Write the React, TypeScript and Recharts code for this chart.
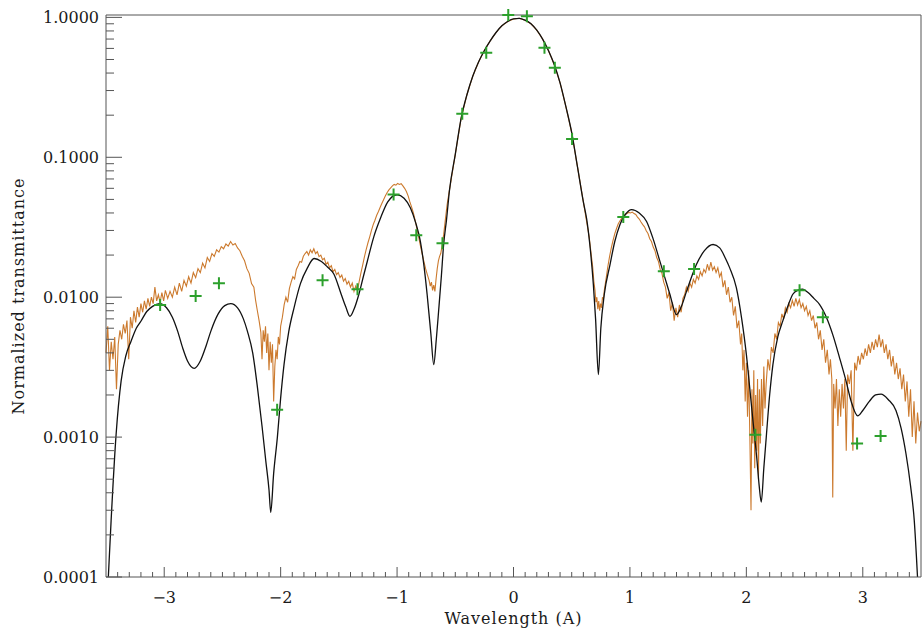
import React from 'react';
import { ComposedChart, Line, Scatter, XAxis, YAxis } from 'recharts';

// smooth model transmittance (black)
const model: [number, number][] = [
  [-3.48, 0.0001], [-3.456, 0.000254], [-3.413, 0.00105], [-3.37, 0.00252], [-3.33, 0.0038],
  [-3.284, 0.00486], [-3.24, 0.006], [-3.199, 0.00676], [-3.15, 0.0079], [-3.1, 0.0086],
  [-3.04, 0.009], [-2.98, 0.0084], [-2.93, 0.0072], [-2.884, 0.0057], [-2.84, 0.0043],
  [-2.8, 0.0035], [-2.742, 0.0031], [-2.69, 0.0035], [-2.64, 0.0045], [-2.6, 0.0057],
  [-2.54, 0.0075], [-2.48, 0.0087], [-2.428, 0.009], [-2.37, 0.0084], [-2.32, 0.007],
  [-2.285, 0.0057], [-2.24, 0.004], [-2.199, 0.00226], [-2.16, 0.0012], [-2.128, 0.00068],
  [-2.1, 0.00042], [-2.085, 0.00029], [-2.06, 0.00055], [-2.028, 0.001], [-2.0, 0.0019],
  [-1.971, 0.0033], [-1.93, 0.0057], [-1.885, 0.0084], [-1.83, 0.0125], [-1.77, 0.0162],
  [-1.713, 0.0189], [-1.65, 0.018], [-1.6, 0.0165], [-1.542, 0.0146], [-1.48, 0.0105],
  [-1.44, 0.0085], [-1.405, 0.0073], [-1.37, 0.0082], [-1.328, 0.0105], [-1.29, 0.014],
  [-1.256, 0.018], [-1.2, 0.027], [-1.142, 0.0368], [-1.08, 0.048], [-1.0, 0.054],
  [-0.94, 0.051], [-0.885, 0.0434], [-0.84, 0.034], [-0.8, 0.0251], [-0.77, 0.017],
  [-0.742, 0.0105], [-0.71, 0.0055], [-0.685, 0.0033], [-0.663, 0.005], [-0.643, 0.008],
  [-0.62, 0.014], [-0.6, 0.0238], [-0.575, 0.036], [-0.55, 0.058], [-0.5, 0.105],
  [-0.45, 0.19], [-0.4, 0.28], [-0.35, 0.38], [-0.3, 0.48], [-0.25, 0.58], [-0.2, 0.68],
  [-0.15, 0.78], [-0.1, 0.87], [-0.05, 0.935], [0.0, 0.975], [0.05, 0.985], [0.1, 0.955],
  [0.15, 0.9], [0.2, 0.81], [0.25, 0.7], [0.3, 0.58], [0.35, 0.46], [0.4, 0.34], [0.45, 0.23],
  [0.5, 0.15], [0.55, 0.085], [0.6, 0.048], [0.629, 0.036], [0.655, 0.024], [0.686, 0.0123],
  [0.705, 0.007], [0.729, 0.0028], [0.75, 0.006], [0.78, 0.0105], [0.829, 0.0171],
  [0.87, 0.025], [0.914, 0.033], [0.96, 0.039], [1.015, 0.0423], [1.08, 0.04], [1.143, 0.0348],
  [1.2, 0.026], [1.257, 0.0181], [1.3, 0.0138], [1.343, 0.0105], [1.4, 0.0075], [1.44, 0.0085],
  [1.486, 0.011], [1.53, 0.014], [1.571, 0.0171], [1.64, 0.0215], [1.714, 0.0238],
  [1.771, 0.0225], [1.82, 0.019], [1.857, 0.0162], [1.914, 0.0117], [1.96, 0.007], [2.0, 0.0039],
  [2.03, 0.0022], [2.057, 0.0013], [2.09, 0.0007], [2.11, 0.00045], [2.128, 0.000343],
  [2.15, 0.0006], [2.171, 0.001], [2.2, 0.002], [2.228, 0.0033], [2.27, 0.0052], [2.314, 0.0068],
  [2.36, 0.0088], [2.399, 0.0105], [2.44, 0.0112], [2.485, 0.0114], [2.53, 0.0108], [2.58, 0.0098],
  [2.628, 0.0089], [2.69, 0.0071], [2.742, 0.0054], [2.8, 0.0037], [2.857, 0.0025], [2.9, 0.0018],
  [2.956, 0.00142], [3.0, 0.00155], [3.056, 0.0018], [3.11, 0.002], [3.157, 0.00203],
  [3.22, 0.00185], [3.285, 0.00155], [3.33, 0.00115], [3.371, 0.00076], [3.41, 0.00045],
  [3.442, 0.000254], [3.47, 0.0001],
];

// measured transmittance (orange)
const measured: [number, number][] = [
  [-3.5, 0.004], [-3.485, 0.0062], [-3.47, 0.003], [-3.455, 0.0048], [-3.44, 0.0036], [-3.425, 0.0052],
  [-3.41, 0.0022], [-3.395, 0.0046], [-3.38, 0.0058], [-3.365, 0.005], [-3.35, 0.0064], [-3.335, 0.0055],
  [-3.32, 0.0068], [-3.305, 0.0036], [-3.29, 0.0072], [-3.275, 0.006], [-3.26, 0.008], [-3.245, 0.0066],
  [-3.23, 0.0085], [-3.215, 0.0072], [-3.2, 0.009], [-3.185, 0.0078], [-3.17, 0.0094], [-3.155, 0.0082],
  [-3.14, 0.0098], [-3.125, 0.0086], [-3.11, 0.01], [-3.095, 0.009], [-3.08, 0.0118], [-3.065, 0.0094],
  [-3.05, 0.0104], [-3.035, 0.0092], [-3.02, 0.0108], [-3.005, 0.0094],
  [-2.99, 0.0112], [-2.97, 0.0098], [-2.95, 0.011], [-2.93, 0.01], [-2.91, 0.0118], [-2.89, 0.0104],
  [-2.87, 0.0126], [-2.85, 0.011], [-2.83, 0.0132], [-2.81, 0.012], [-2.79, 0.014], [-2.77, 0.0126],
  [-2.75, 0.015], [-2.73, 0.0138], [-2.71, 0.016], [-2.69, 0.015], [-2.67, 0.0175], [-2.65, 0.0162],
  [-2.63, 0.0192], [-2.61, 0.018], [-2.59, 0.0205], [-2.57, 0.0196], [-2.55, 0.0218], [-2.53, 0.021],
  [-2.51, 0.023], [-2.49, 0.0222], [-2.47, 0.024], [-2.45, 0.0232], [-2.43, 0.025], [-2.41, 0.0236],
  [-2.39, 0.0242], [-2.37, 0.0225], [-2.35, 0.0215], [-2.33, 0.0196], [-2.31, 0.0182], [-2.29, 0.016],
  [-2.27, 0.0148], [-2.25, 0.0125],
  [-2.23, 0.0118], [-2.215, 0.0095], [-2.2, 0.008], [-2.185, 0.0068], [-2.17, 0.0056], [-2.16, 0.0036],
  [-2.15, 0.0058], [-2.14, 0.0048], [-2.13, 0.0062], [-2.12, 0.004], [-2.11, 0.0055], [-2.1, 0.003],
  [-2.09, 0.0048], [-2.08, 0.0034], [-2.07, 0.0046], [-2.06, 0.0018], [-2.05, 0.0032], [-2.04, 0.0042],
  [-2.03, 0.0036], [-2.02, 0.0052], [-2.01, 0.0046], [-2.0, 0.0062], [-1.985, 0.0072], [-1.97, 0.0088],
  [-1.955, 0.01], [-1.94, 0.0092], [-1.925, 0.0115], [-1.91, 0.0128], [-1.895, 0.014], [-1.88, 0.0135],
  [-1.865, 0.0158], [-1.85, 0.0168], [-1.835, 0.018], [-1.82, 0.0178], [-1.805, 0.0196], [-1.79, 0.0205],
  [-1.775, 0.0212], [-1.76, 0.02], [-1.745, 0.0218], [-1.73, 0.0208], [-1.715, 0.0222], [-1.7, 0.0205],
  [-1.685, 0.0212], [-1.67, 0.0195], [-1.655, 0.02], [-1.64, 0.0185], [-1.625, 0.019], [-1.61, 0.0172],
  [-1.595, 0.0178], [-1.58, 0.0162], [-1.565, 0.0168], [-1.55, 0.0152], [-1.535, 0.0158], [-1.52, 0.0145],
  [-1.505, 0.015], [-1.49, 0.0138], [-1.475, 0.0144], [-1.46, 0.013], [-1.445, 0.0136], [-1.43, 0.0124],
  [-1.415, 0.013], [-1.4, 0.0118], [-1.385, 0.0126], [-1.37, 0.011], [-1.355, 0.012], [-1.34, 0.0112],
  [-1.325, 0.013], [-1.31, 0.015],
  [-1.295, 0.017], [-1.28, 0.0195], [-1.265, 0.022], [-1.25, 0.0245], [-1.235, 0.027], [-1.22, 0.03],
  [-1.205, 0.033], [-1.19, 0.0355], [-1.175, 0.0385], [-1.16, 0.041], [-1.145, 0.044], [-1.13, 0.047],
  [-1.115, 0.05], [-1.1, 0.053], [-1.085, 0.056], [-1.07, 0.0585], [-1.055, 0.0605], [-1.04, 0.0625],
  [-1.025, 0.064], [-1.01, 0.0632], [-0.995, 0.065], [-0.98, 0.064], [-0.965, 0.0648], [-0.95, 0.0625],
  [-0.935, 0.06], [-0.92, 0.057], [-0.905, 0.053], [-0.89, 0.048], [-0.875, 0.044], [-0.86, 0.04],
  [-0.845, 0.0355], [-0.83, 0.031], [-0.815, 0.027], [-0.8, 0.0235], [-0.785, 0.0205], [-0.77, 0.018],
  [-0.755, 0.016], [-0.74, 0.0145], [-0.725, 0.0132], [-0.715, 0.012], [-0.705, 0.0128], [-0.695, 0.0112],
  [-0.685, 0.0122], [-0.675, 0.011], [-0.665, 0.0135], [-0.655, 0.016], [-0.645, 0.0182], [-0.635, 0.0196],
  [-0.625, 0.0205], [-0.615, 0.0228], [-0.6, 0.028], [-0.585, 0.036], [-0.57, 0.046], [-0.555, 0.055],
  [-0.5, 0.105], [-0.45, 0.19], [-0.4, 0.28], [-0.35, 0.38], [-0.3, 0.48], [-0.25, 0.58], [-0.2, 0.68],
  [-0.15, 0.78], [-0.1, 0.87], [-0.05, 0.935], [0.0, 0.975], [0.05, 0.985], [0.1, 0.955], [0.15, 0.9],
  [0.2, 0.81], [0.25, 0.7], [0.3, 0.58], [0.35, 0.46], [0.4, 0.34], [0.45, 0.23], [0.5, 0.15],
  [0.55, 0.085], [0.6, 0.048],
  [0.625, 0.036], [0.65, 0.027], [0.665, 0.021], [0.68, 0.0165], [0.69, 0.013], [0.7, 0.0112],
  [0.708, 0.0092], [0.716, 0.01], [0.724, 0.0082], [0.732, 0.0094], [0.74, 0.008], [0.748, 0.009],
  [0.756, 0.0084], [0.764, 0.01], [0.772, 0.0096], [0.78, 0.0112], [0.795, 0.0135], [0.81, 0.0165],
  [0.825, 0.0195], [0.84, 0.0225], [0.855, 0.0255], [0.87, 0.0285], [0.885, 0.031], [0.9, 0.0335],
  [0.915, 0.0352], [0.93, 0.0368], [0.945, 0.038], [0.96, 0.039], [0.975, 0.0396], [0.99, 0.0404],
  [1.005, 0.04], [1.02, 0.0406], [1.035, 0.0396], [1.05, 0.039], [1.065, 0.0374], [1.08, 0.0362],
  [1.095, 0.0345], [1.11, 0.033], [1.125, 0.0318], [1.14, 0.0298], [1.155, 0.0285], [1.17, 0.0262],
  [1.185, 0.025], [1.2, 0.0228], [1.215, 0.0215], [1.23, 0.0192], [1.245, 0.018], [1.26, 0.0158],
  [1.275, 0.0148], [1.29, 0.0128], [1.305, 0.0118], [1.32, 0.0098], [1.335, 0.0108], [1.35, 0.008],
  [1.365, 0.0092], [1.38, 0.0068], [1.395, 0.0084], [1.41, 0.0072], [1.425, 0.0088], [1.44, 0.0078],
  [1.455, 0.0098], [1.47, 0.0104], [1.485, 0.0118], [1.5, 0.011], [1.515, 0.0126], [1.53, 0.0118],
  [1.545, 0.0134], [1.56, 0.0126], [1.575, 0.0142], [1.59, 0.0134], [1.605, 0.0152], [1.62, 0.0142],
  [1.635, 0.0158], [1.65, 0.015], [1.665, 0.0172], [1.68, 0.0155], [1.695, 0.0178], [1.71, 0.0156],
  [1.725, 0.0165], [1.74, 0.015], [1.755, 0.0162], [1.77, 0.014], [1.785, 0.015], [1.8, 0.0118],
  [1.815, 0.0132], [1.83, 0.0104], [1.845, 0.0118], [1.86, 0.0092], [1.875, 0.01], [1.89, 0.0074],
  [1.905, 0.0086], [1.92, 0.006], [1.935, 0.0068], [1.95, 0.0046], [1.96, 0.0055], [1.97, 0.003],
  [1.98, 0.0042], [1.99, 0.0018], [2.0, 0.0034], [2.01, 0.0014], [2.02, 0.003], [2.03, 0.001],
  [2.04, 0.0003], [2.048, 0.0022], [2.056, 0.0009], [2.064, 0.003], [2.072, 0.0006], [2.08, 0.002],
  [2.088, 0.0008], [2.096, 0.0026], [2.104, 0.0005], [2.112, 0.0022], [2.12, 0.0009], [2.13, 0.0026],
  [2.14, 0.0012], [2.15, 0.0032], [2.16, 0.0016], [2.17, 0.0024], [2.185, 0.0036], [2.2, 0.003],
  [2.215, 0.0044], [2.23, 0.004], [2.245, 0.0055], [2.26, 0.005], [2.275, 0.0066], [2.29, 0.0062],
  [2.305, 0.0076], [2.32, 0.007], [2.335, 0.0084], [2.35, 0.0078], [2.365, 0.009], [2.38, 0.0084],
  [2.395, 0.0095], [2.41, 0.0086], [2.425, 0.0098], [2.44, 0.0088], [2.455, 0.0096], [2.47, 0.0084],
  [2.485, 0.009], [2.5, 0.008], [2.515, 0.0086], [2.53, 0.0074], [2.545, 0.008], [2.56, 0.0068],
  [2.575, 0.0074], [2.59, 0.006], [2.605, 0.0066], [2.62, 0.005], [2.635, 0.0058], [2.65, 0.0042],
  [2.665, 0.005], [2.68, 0.0034], [2.695, 0.0042], [2.71, 0.0028], [2.722, 0.0036], [2.734, 0.0026],
  [2.742, 0.00037], [2.75, 0.0024], [2.762, 0.0016], [2.774, 0.0026], [2.786, 0.0012], [2.798, 0.0022],
  [2.81, 0.0014], [2.822, 0.0024], [2.834, 0.0016], [2.846, 0.0026], [2.858, 0.0008], [2.87, 0.0028],
  [2.885, 0.0024], [2.9, 0.003], [2.915, 0.0008], [2.93, 0.0034], [2.945, 0.003], [2.96, 0.0038],
  [2.975, 0.0033], [2.99, 0.004], [3.005, 0.0036], [3.02, 0.0043], [3.035, 0.0038], [3.05, 0.0046],
  [3.065, 0.004], [3.08, 0.0048], [3.095, 0.0042], [3.11, 0.005], [3.125, 0.0044], [3.14, 0.0054],
  [3.155, 0.0044], [3.17, 0.005], [3.185, 0.004], [3.2, 0.0046], [3.215, 0.0036], [3.23, 0.0042],
  [3.245, 0.0032], [3.26, 0.0038], [3.275, 0.0028], [3.29, 0.0034], [3.305, 0.0026], [3.32, 0.0031],
  [3.335, 0.0022], [3.35, 0.0028], [3.365, 0.0018], [3.38, 0.0025], [3.395, 0.0014], [3.41, 0.0022],
  [3.425, 0.001], [3.44, 0.0018], [3.455, 0.0009], [3.47, 0.0015], [3.485, 0.0011], [3.5, 0.0013],
];

// sampled points (green crosses)
const samples: [number, number][] = [
  [-3.035, 0.0088], [-2.73, 0.0102], [-2.53, 0.0126], [-2.03, 0.00157], [-1.64, 0.0132],
  [-1.34, 0.0114], [-1.03, 0.0543], [-0.835, 0.0277], [-0.61, 0.0243], [-0.44, 0.205],
  [-0.234, 0.558], [-0.045, 1.04], [0.115, 1.02], [0.266, 0.606], [0.355, 0.436], [0.503, 0.135],
  [0.943, 0.0374], [1.291, 0.0153], [1.551, 0.0159], [2.077, 0.00104], [2.457, 0.0112],
  [2.657, 0.0072], [2.951, 0.0009], [3.153, 0.00102],
];

const xMajor = [-3, -2, -1, 0, 1, 2, 3];
const xTicks = Array.from({ length: 69 }, (_, i) => Math.round(-34 + i) / 10);
const decades = [0.0001, 0.001, 0.01, 0.1];
const yTicks = [...decades.flatMap((d) => [1, 2, 3, 4, 5, 6, 7, 8, 9].map((k) => Number((k * d).toPrecision(2)))), 1];

const modelData = model.map(([x, y]) => ({ x, y }));
const measuredData = measured.map(([x, y]) => ({ x, y }));
const sampleData = samples.map(([x, y]) => ({ x, y }));

const FONT = '"DejaVu Serif", serif';
const AXIS = '#555';
const TEXT = '#1a1a1a';
const yDomain = () => [0.0001, 1];

const isDecade = (v: number) => Math.abs(Math.log10(v) - Math.round(Math.log10(v))) < 1e-9;
const fmtX = (v: number) => (v < 0 ? '\u2212' + Math.abs(v) : String(Math.abs(v)));

const BottomTick = ({ x, y, payload }: any) => {
  const major = xMajor.includes(payload.value);
  return (
    <g>
      <line x1={x} x2={x} y1={y} y2={y - (major ? 10 : 5)} stroke={AXIS} strokeWidth={1} />
      {major && (
        <text x={x} y={y + 26} textAnchor="middle" fontFamily={FONT} fontSize={16} fill={TEXT}>
          {fmtX(payload.value)}
        </text>
      )}
    </g>
  );
};

const TopTick = ({ x, y, payload }: any) => {
  const major = xMajor.includes(payload.value);
  return <line x1={x} x2={x} y1={y} y2={y + (major ? 10 : 5)} stroke={AXIS} strokeWidth={1} />;
};

const LeftTick = ({ x, y, payload }: any) => {
  const major = isDecade(payload.value);
  return (
    <g>
      <line x1={x} x2={x + (major ? 16 : 8)} y1={y} y2={y} stroke={AXIS} strokeWidth={1} />
      {major && (
        <text x={x - 7} y={y + 6} textAnchor="end" fontFamily={FONT} fontSize={16} fill={TEXT}>
          {payload.value.toFixed(4)}
        </text>
      )}
    </g>
  );
};

const RightTick = ({ x, y, payload }: any) => {
  const major = isDecade(payload.value);
  return <line x1={x} x2={x - (major ? 16 : 8)} y1={y} y2={y} stroke={AXIS} strokeWidth={1} />;
};

const Cross = ({ cx, cy }: any) => (
  <path d={`M${cx - 6},${cy}H${cx + 6}M${cx},${cy - 6}V${cy + 6}`} stroke="#2ca02c" strokeWidth={2} fill="none" />
);

export default function App() {
  return (
    <div style={{ width: 923, height: 630, background: '#fff' }}>
      <style>{'body{margin:0}'}</style>
      <ComposedChart width={923} height={630} margin={{ top: 14, right: 1, bottom: 0, left: 0 }}>
        <XAxis
          dataKey="x"
          type="number"
          domain={[-3.5, 3.5]}
          ticks={xTicks}
          interval={0}
          tickSize={0}
          tickMargin={0}
          tick={<BottomTick />}
          height={53}
          axisLine={{ stroke: AXIS }}
          label={{
            value: 'Wavelength (A)',
            position: 'insideBottom',
            offset: 6,
            style: { fontFamily: FONT, fontSize: 16, fill: TEXT, letterSpacing: 1 },
          }}
        />
        <XAxis
          xAxisId="top"
          orientation="top"
          dataKey="x"
          type="number"
          domain={[-3.5, 3.5]}
          ticks={xTicks}
          interval={0}
          tickSize={0}
          tickMargin={0}
          tick={<TopTick />}
          height={1}
          axisLine={{ stroke: AXIS }}
        />
        <YAxis
          type="number"
          scale="log"
          domain={yDomain}
          ticks={yTicks}
          interval={0}
          tickSize={0}
          tickMargin={0}
          tick={<LeftTick />}
          width={106}
          axisLine={{ stroke: AXIS }}
          label={{
            value: 'Normalized transmittance',
            angle: -90,
            position: 'insideLeft',
            offset: 18,
            style: { textAnchor: 'middle', fontFamily: FONT, fontSize: 16, fill: TEXT, letterSpacing: 1 },
          }}
        />
        <YAxis
          yAxisId="right"
          orientation="right"
          type="number"
          scale="log"
          domain={yDomain}
          ticks={yTicks}
          interval={0}
          tickSize={0}
          tickMargin={0}
          tick={<RightTick />}
          width={1}
          axisLine={{ stroke: AXIS }}
        />
        <Line
          data={measuredData}
          dataKey="y"
          type="linear"
          stroke="#cc7a2e"
          strokeWidth={1.1}
          dot={false}
          activeDot={false}
          isAnimationActive={false}
        />
        <Line
          data={modelData}
          dataKey="y"
          type="monotone"
          stroke="#111"
          strokeWidth={1.3}
          dot={false}
          activeDot={false}
          isAnimationActive={false}
        />
        <Scatter data={sampleData} dataKey="y" shape={<Cross />} isAnimationActive={false} />
      </ComposedChart>
    </div>
  );
}
